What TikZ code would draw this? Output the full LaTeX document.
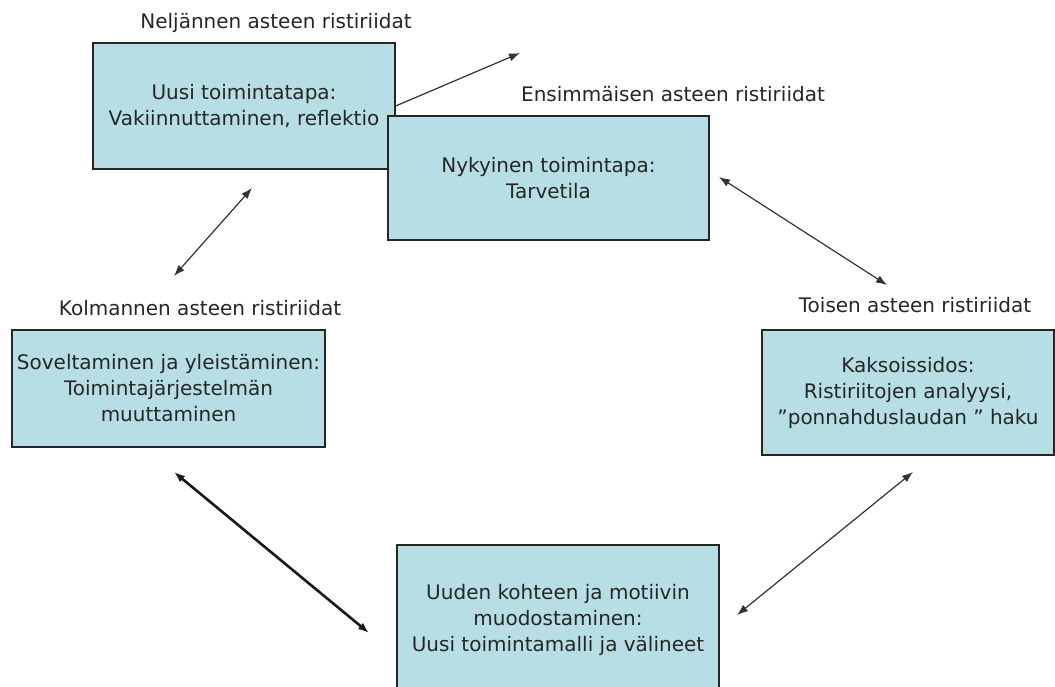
\documentclass[tikz,border=0pt]{standalone}
\usepackage{fontspec}
\setmainfont{DejaVu Sans}
\usetikzlibrary{arrows.meta}

\definecolor{stagefill}{RGB}{183,222,228}
\tikzset{
  stage/.style={draw=black!85, line width=1.3pt, fill=stagefill, align=center,
    inner sep=0pt, text=black!85, font=\fontsize{20}{26}\selectfont},
  degree/.style={inner sep=0pt, text=black!85, font=\fontsize{20}{26}\selectfont},
  tip/.tip={Latex[length=11pt,width=8pt]},
  link/.style={tip-tip, line width=1.2pt, black!80},
}

\begin{document}
\begin{tikzpicture}[x=1pt,y=-1pt]
  \path[fill=white,use as bounding box] (0,0) rectangle (1055,686);
  % stages of the cycle
  \node[stage, minimum width=302pt, minimum height=126pt] (uusi) at (244,106)
    {Uusi toimintatapa:\\Vakiinnuttaminen, reflektio};
  \node[stage, minimum width=321pt, minimum height=124pt] (nykyinen) at (548.5,178)
    {Nykyinen toimintapa:\\Tarvetila};
  \node[stage, minimum width=313pt, minimum height=117pt] (sovel) at (168.5,388.5)
    {Soveltaminen ja yleistäminen:\\Toimintajärjestelmän\\muuttaminen};
  \node[stage, minimum width=292pt, minimum height=125pt] (kaksois) at (908,392.5)
    {Kaksoissidos:\\Ristiriitojen analyysi,\\”ponnahduslaudan ” haku};
  \node[stage, minimum width=322pt, minimum height=150pt] (uuden) at (558,620)
    {Uuden kohteen ja motiivin\\muodostaminen:\\Uusi toimintamalli ja välineet};
  % degrees of contradiction
  \node[degree] (nelj) at (276,23) {Neljännen asteen ristiriidat};
  \node[degree] (ensim) at (673,94) {Ensimmäisen asteen ristiriidat};
  \node[degree] (kolm) at (200,308) {Kolmannen asteen ristiriidat};
  \node[degree] (tois) at (915,305) {Toisen asteen ristiriidat};
  % free arrow ends
  \coordinate (a1) at (520,53);
  \coordinate (a2) at (252,188);
  \coordinate (b2) at (174,276);
  \coordinate (a3) at (719,177);
  \coordinate (b3) at (887,285);
  \coordinate (a4) at (174,472);
  \coordinate (b4) at (369,633);
  \coordinate (a5) at (913,472);
  \coordinate (b5) at (737,615);
  \draw[link, -tip] (uusi.east) -- (a1);
  \draw[link] (a2) -- (b2);
  \draw[link] (a3) -- (b3);
  \draw[link, line width=2.6pt, black!90] (a4) -- (b4);
  \draw[link] (a5) -- (b5);
\end{tikzpicture}
\end{document}
